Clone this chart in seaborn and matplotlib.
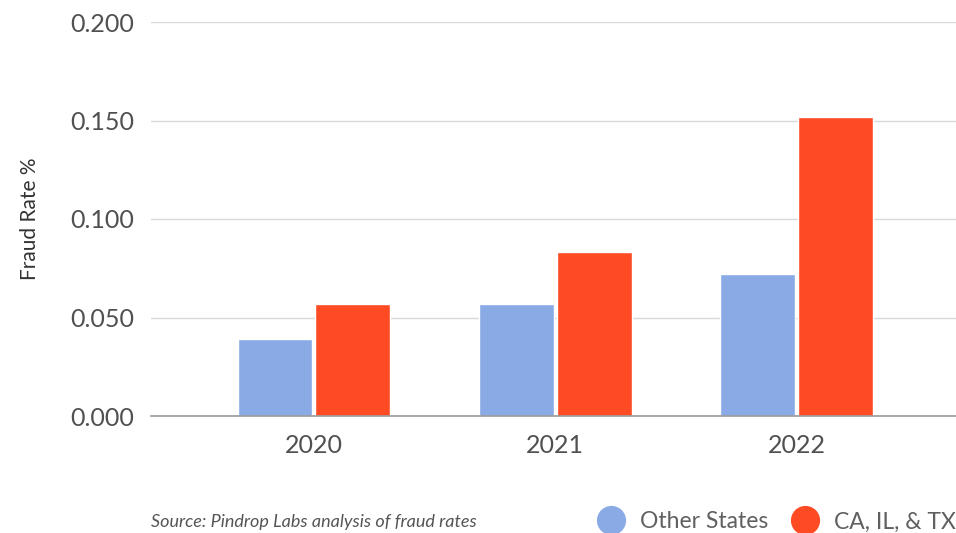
import matplotlib
matplotlib.use("Agg")
import matplotlib.pyplot as plt
from matplotlib.lines import Line2D
import seaborn as sns
import pandas as pd

# Fraud rate by year and state group
years = ["2020", "2021", "2022"]
other_states = [0.039, 0.057, 0.072]
ca_il_tx = [0.057, 0.083, 0.152]
series_names = ["Other States", "CA, IL, & TX"]
y_ticks = [0.0, 0.05, 0.10, 0.15, 0.20]

colors = ["#8AAAE5", "#FF4B23"]

df = pd.DataFrame({
    "Year": years * 2,
    "Rate": other_states + ca_il_tx,
    "Group": [series_names[0]] * len(years) + [series_names[1]] * len(years),
})

sns.set_theme(style="white")
plt.rcParams["font.family"] = ["Lato", "DejaVu Sans"]

fig = plt.figure(figsize=(9.56, 5.33), dpi=100)
ax = fig.add_axes([151 / 956, 1 - 416 / 533, 1 - 151 / 956, (416 - 22) / 533])

sns.barplot(data=df, x="Year", y="Rate", hue="Group", order=years,
            hue_order=series_names, palette=colors, width=0.645, gap=0.04,
            saturation=1, legend=False, ax=ax)

ax.set_xlim(-0.675, 2.66)
ax.set_ylim(0, 0.2)
ax.set_yticks(y_ticks)
ax.set_yticklabels([f"{v:.3f}" for v in y_ticks])
ax.yaxis.grid(True, color="#d9d9d9", linewidth=1)
ax.set_axisbelow(True)
for s in ["top", "right", "left"]:
    ax.spines[s].set_visible(False)
ax.spines["bottom"].set_color("#9a9a9a")
ax.spines["bottom"].set_linewidth(1.2)
ax.tick_params(axis="both", length=0, labelsize=18, colors="#505050")
ax.tick_params(axis="y", pad=12)
ax.tick_params(axis="x", pad=13)
ax.set_xlabel("")
ax.set_ylabel("Fraud Rate %", fontsize=15, color="#333333", labelpad=22)

fig.text(151 / 956, 1 - 522 / 533, "Source: Pindrop Labs analysis of fraud rates",
         fontsize=13, style="italic", color="#555555", va="center", ha="left")

handles = [Line2D([], [], marker="o", linestyle="", markersize=20,
                  markerfacecolor=c, markeredgecolor=c) for c in colors]
fig.legend(handles, series_names, loc="center right",
           bbox_to_anchor=(1.0, 1 - 522 / 533), ncol=2, frameon=False,
           fontsize=16.5, labelcolor="#606060", handlelength=1.0,
           handletextpad=0.76, columnspacing=1.1, borderaxespad=0, borderpad=0)

fig.savefig("out.png", dpi=100)
